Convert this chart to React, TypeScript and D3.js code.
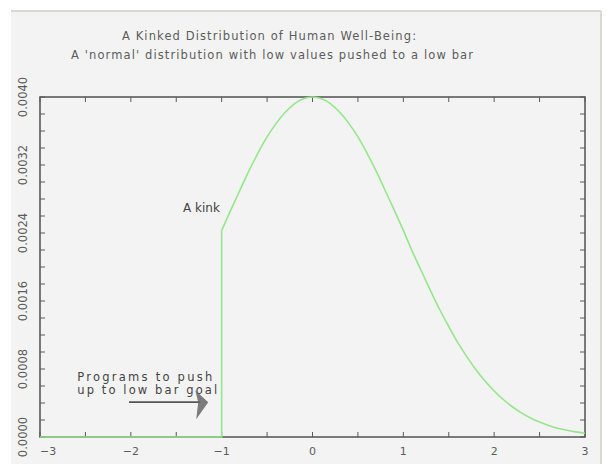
import React, { useEffect, useRef } from "react";
import * as d3 from "d3";

// values: the low bar part and the curve from the kink on
const lowBarX = [-3, -1, -1];
const lowBarY = [0, 0, 0.00243];
const curveX = [
  -1, -0.9, -0.8, -0.7, -0.6, -0.5, -0.4, -0.3, -0.2, -0.1, 0, 0.1, 0.2, 0.3, 0.4, 0.5, 0.6, 0.7, 0.8, 0.9, 1,
  1.1, 1.2, 1.3, 1.4, 1.5, 1.6, 1.7, 1.8, 1.9, 2, 2.1, 2.2, 2.3, 2.4, 2.5, 2.6, 2.7, 2.8, 2.9, 3,
];
const curveY = [
  0.00243, 0.00267, 0.0029, 0.00313, 0.00334, 0.00353, 0.00369, 0.00382, 0.00392, 0.00398, 0.004, 0.00398,
  0.00392, 0.00382, 0.00369, 0.00353, 0.00334, 0.00313, 0.0029, 0.00267, 0.00243, 0.00218, 0.00195, 0.00172,
  0.0015, 0.0013, 0.00111, 0.000943, 0.000792, 0.000658, 0.000541, 0.000441, 0.000356, 0.000284, 0.000224,
  0.000176, 0.000136, 0.000104, 0.000079, 0.00006, 0.000044,
];
const xTicks = [-3, -2, -1, 0, 1, 2, 3];
const yTicks = [0, 0.0008, 0.0016, 0.0024, 0.0032, 0.004];
const titleLines = [
  "A Kinked Distribution of Human Well-Being:",
  "A 'normal' distribution with low values pushed to a low bar",
];
const kinkLabel = "A kink";
const programLines = ["Programs to push", "up to low bar goal"];

const W = 607;
const H = 464;
const margin = { top: 97, right: 22, bottom: 27, left: 40 };
const axisColor = "#5a5a5a";
const textColor = "#5c5c5c";
const green = "#95e68a";

export default function App() {
  const ref = useRef<SVGSVGElement>(null);

  useEffect(() => {
    const svg = d3.select(ref.current);
    svg.selectAll("*").remove();

    const x = d3.scaleLinear().domain([-3, 3]).range([margin.left, W - margin.right]);
    const y = d3.scaleLinear().domain([0, 0.004]).range([H - margin.bottom, margin.top]);

    // panel
    svg.append("rect").attr("x", 11).attr("y", 10).attr("width", 590).attr("height", H - 10).attr("fill", "#f3f3f3");
    svg.append("line").attr("x1", 11).attr("x2", 601).attr("y1", 11).attr("y2", 11).attr("stroke", "#dcd8d0").attr("stroke-width", 2);
    svg.append("line").attr("x1", 601).attr("x2", 601).attr("y1", 11).attr("y2", H).attr("stroke", "#dcd8d0").attr("stroke-width", 2);

    // title
    const titleWidths = [294, 402];
    titleLines.forEach((t, i) => {
      svg
        .append("text")
        .attr("x", 269 + (i === 0 ? 0 : 3))
        .attr("y", 40 + i * 19)
        .attr("text-anchor", "middle")
        .attr("font-family", "DejaVu Sans")
        .attr("font-size", 11.5)
        .attr("fill", textColor)
        .attr("textLength", titleWidths[i])
        .attr("lengthAdjust", "spacing")
        .text(t);
    });

    // box
    const [x0, x1] = x.range();
    const [y0, y1] = y.range();
    svg
      .append("rect")
      .attr("x", x0)
      .attr("y", y1)
      .attr("width", x1 - x0)
      .attr("height", y0 - y1)
      .attr("fill", "none")
      .attr("stroke", axisColor)
      .attr("stroke-width", 1.6);

    // ticks
    const tl = 5;
    const xMinor = d3.range(-3, 3.001, 0.5);
    const yMinor = d3.range(0, 0.00401, 0.0002);
    const g = svg.append("g").attr("stroke", axisColor).attr("stroke-width", 1);
    xMinor.forEach((v) => {
      g.append("line").attr("x1", x(v)).attr("x2", x(v)).attr("y1", y0).attr("y2", y0 - tl);
      g.append("line").attr("x1", x(v)).attr("x2", x(v)).attr("y1", y1).attr("y2", y1 + tl);
    });
    yMinor.forEach((v) => {
      g.append("line").attr("x1", x0).attr("x2", x0 + tl).attr("y1", y(v)).attr("y2", y(v));
      g.append("line").attr("x1", x1).attr("x2", x1 - tl).attr("y1", y(v)).attr("y2", y(v));
    });

    // tick labels
    xTicks.forEach((v, i) => {
      svg
        .append("text")
        .attr("x", x(v))
        .attr("y", y0 + 18)
        .attr("text-anchor", i === 0 ? "start" : "middle")
        .attr("font-family", "DejaVu Sans")
        .attr("font-size", 11)
        .attr("fill", textColor)
        .text(v < 0 ? "\u2212" + Math.abs(v) : String(v));
    });
    yTicks.forEach((v) => {
      svg
        .append("text")
        .attr("transform", `translate(27,${y(v)}) rotate(-90)`)
        .attr("text-anchor", "middle")
        .attr("font-family", "DejaVu Sans")
        .attr("font-size", 11.5)
        .attr("fill", textColor)
        .text(v.toFixed(4));
    });

    // data
    const line = d3
      .line<[number, number]>()
      .x((d) => x(d[0]))
      .y((d) => y(d[1]));
    svg
      .append("path")
      .attr("d", line(lowBarX.map((v, i) => [v, lowBarY[i]]))!)
      .attr("fill", "none")
      .attr("stroke", green)
      .attr("stroke-width", 1.6);
    svg
      .append("path")
      .attr("d", line.curve(d3.curveMonotoneX)(curveX.map((v, i) => [v, curveY[i]]))!)
      .attr("fill", "none")
      .attr("stroke", green)
      .attr("stroke-width", 1.6);

    // annotations
    svg
      .append("text")
      .attr("x", x(-1.02))
      .attr("y", y(0.00265))
      .attr("text-anchor", "end")
      .attr("font-family", "DejaVu Sans")
      .attr("font-size", 12)
      .attr("fill", "#444")
      .text(kinkLabel);

    programLines.forEach((t, i) => {
      svg
        .append("text")
        .attr("x", x(-2.59))
        .attr("y", y(0.00066 - i * 0.000155))
        .attr("font-family", "DejaVu Sans")
        .attr("font-size", 11.5)
        .attr("fill", "#444")
        .attr("textLength", i === 0 ? 135 : 140)
        .attr("lengthAdjust", "spacing")
        .text(t);
    });

    const ay = y(0.00041);
    const ax0 = x(-2.02);
    const ax1 = x(-1.17);
    svg.append("line").attr("x1", ax0).attr("x2", ax1 - 6).attr("y1", ay).attr("y2", ay).attr("stroke", "#555").attr("stroke-width", 1.6);
    svg
      .append("path")
      .attr("d", `M${ax1 - 11},${ay - 12} L${ax1 + 2},${ay} L${ax1 - 10},${ay + 17} L${ax1 - 8},${ay} Z`)
      .attr("fill", "#666")
      .attr("opacity", 0.85);
  }, []);

  return <svg ref={ref} width={W} height={H} style={{ position: "absolute", left: 0, top: 0 }} />;
}
